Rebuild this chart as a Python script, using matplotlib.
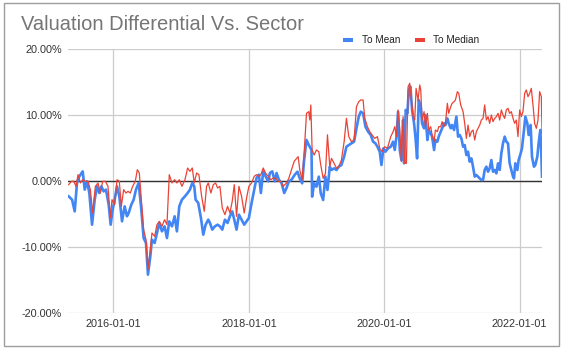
import matplotlib
matplotlib.use("Agg")
import matplotlib.pyplot as plt
from matplotlib.patches import Rectangle

plt.rcParams['font.family'] = ['Liberation Sans', 'DejaVu Sans']

# decimal years and % values
mean_years = [
    2015.338, 2015.388, 2015.427, 2015.461, 2015.496, 2015.545, 2015.575, 2015.609, 2015.643, 2015.683,
    2015.722, 2015.757, 2015.791, 2015.821, 2015.855, 2015.889, 2015.929, 2015.958, 2015.988, 2016.017,
    2016.052, 2016.086, 2016.126, 2016.165, 2016.199, 2016.224, 2016.263, 2016.298, 2016.332, 2016.372,
    2016.411, 2016.445, 2016.480, 2016.509, 2016.544, 2016.568, 2016.608, 2016.642, 2016.677, 2016.716,
    2016.755, 2016.790, 2016.824, 2016.864, 2016.903, 2016.937, 2016.972, 2017.011,
    2017.056, 2017.095, 2017.129, 2017.164, 2017.193, 2017.213, 2017.252, 2017.292, 2017.326, 2017.361,
    2017.400, 2017.425, 2017.459, 2017.498, 2017.538, 2017.572, 2017.607, 2017.646, 2017.685, 2017.720,
    2017.754, 2017.784, 2017.818, 2017.853, 2017.892, 2017.931, 2017.966, 2018.000, 2018.040, 2018.079,
    2018.113, 2018.148, 2018.177, 2018.212, 2018.246, 2018.286, 2018.310, 2018.345, 2018.384, 2018.409,
    2018.443, 2018.482, 2018.522, 2018.556, 2018.591, 2018.630, 2018.679,
    2018.718, 2018.752, 2018.787, 2018.816, 2018.851, 2018.885, 2018.925, 2018.934, 2018.964, 2018.998,
    2019.033, 2019.062, 2019.097, 2019.131, 2019.161, 2019.195, 2019.220, 2019.259, 2019.294, 2019.328,
    2019.367, 2019.407, 2019.441, 2019.476, 2019.515, 2019.554, 2019.589, 2019.623, 2019.653, 2019.687,
    2019.722, 2019.761, 2019.800, 2019.835, 2019.869, 2019.899, 2019.933, 2019.958, 2019.987, 2020.017,
    2020.056, 2020.096, 2020.130,
    2020.155, 2020.180, 2020.204, 2020.229, 2020.253, 2020.278, 2020.293, 2020.317, 2020.342, 2020.362,
    2020.386, 2020.411, 2020.440, 2020.460, 2020.485, 2020.509, 2020.539, 2020.558, 2020.588, 2020.608,
    2020.637, 2020.657, 2020.686, 2020.706, 2020.736, 2020.755, 2020.785, 2020.804, 2020.834, 2020.854,
    2020.883, 2020.903, 2020.932, 2020.952, 2020.982, 2021.001, 2021.031, 2021.065, 2021.090, 2021.114,
    2021.139, 2021.164, 2021.188, 2021.213, 2021.237, 2021.262, 2021.287, 2021.311, 2021.336, 2021.360,
    2021.385, 2021.410, 2021.434, 2021.459, 2021.483, 2021.508, 2021.533, 2021.557, 2021.582, 2021.606,
    2021.631, 2021.656, 2021.680, 2021.705, 2021.729, 2021.754, 2021.779, 2021.803, 2021.828, 2021.852,
    2021.877, 2021.902, 2021.916, 2021.936, 2021.966, 2021.985, 2022.015, 2022.034, 2022.064, 2022.084,
    2022.113, 2022.133, 2022.162, 2022.182, 2022.211, 2022.231, 2022.261, 2022.280, 2022.305, 2022.320,
    2022.330,
]
to_mean = [
    -2.32, -2.83, -4.60, -0.30, 0.71, 1.46, -1.31, -0.05, -1.82, -6.62,
    -2.83, -0.81, -1.82, -0.81, -1.57, -1.31, -3.59, -6.62, -4.34, -2.83,
    -0.81, -2.32, -6.11, -3.84, -5.35, -4.85, -3.59, -2.83, -1.31, -0.30,
    -4.34, -8.64, -9.39, -14.19, -11.41, -8.89, -9.39, -7.88, -6.36, -7.63,
    -6.87, -8.64, -6.11, -6.87, -5.35, -7.63, -3.84, -2.83,
    -2.32, -1.82, -1.31, -0.30, -0.81, -2.83, -3.33, -5.61, -8.13, -6.62,
    -5.86, -6.36, -7.37, -6.87, -6.62, -6.87, -7.37, -5.86, -6.36, -5.35,
    -4.60, -5.86, -7.37, -5.10, -5.86, -6.62, -6.11, -5.61, -3.33, -1.31,
    0.45, 0.96, -1.82, 1.46, 0.71, -0.05, 1.21, 1.46, -0.05, 1.21,
    0.20, -0.30, -1.82, -1.06, -0.05, 0.20, 0.96,
    1.41, 0.40, -0.35, 3.18, 6.21, 5.45, 4.70, -2.37, -0.35, -0.86,
    0.66, -1.87, -2.88, 0.66, -1.36, 2.17, 1.67, 1.92, 1.67, 2.17,
    2.42, 3.69, 5.20, 5.45, 5.71, 5.96, 7.98, 9.75, 10.51, 10.25,
    8.23, 7.47, 6.97, 5.96, 5.71, 5.20, 4.44, 2.42, 4.95, 4.44,
    4.95, 5.20, 5.96,
    4.70, 6.72, 10.51, 4.70, 3.18, 9.24, 2.68, 10.76, 10.25, 13.79,
    14.29, 10.76, 8.74, 6.72, 3.43, 12.27, 11.26, 8.74, 7.98, 10.00,
    6.21, 7.73, 7.22, 6.72, 4.70, 6.21, 5.96, 6.72, 7.47, 7.98,
    8.74, 8.48, 9.49, 8.74, 7.98, 8.48, 7.73, 9.75, 6.72, 6.97,
    6.46, 5.20, 5.45, 3.94, 4.44, 2.93, 3.43, 2.17, 0.66, 0.91,
    0.66, 0.40, 0.15, 0.15, 1.67, 2.17, 1.41, 1.92, 3.18, 1.41,
    1.67, 1.16, 2.68, 1.67, 4.19, 5.71, 6.72, 5.96, 5.71, 2.68,
    1.67, 0.66, 0.40, 2.68, 1.67, 3.18, 4.19, 4.95, 7.73, 9.75,
    8.74, 6.97, 8.48, 3.69, 2.17, 2.42, 3.69, 5.71, 7.73, 4.19,
    0.66,
]

median_years = [
    2015.338, 2015.378, 2015.412, 2015.447, 2015.476, 2015.511, 2015.545, 2015.584, 2015.624, 2015.658,
    2015.693, 2015.732, 2015.771, 2015.806, 2015.840, 2015.880, 2015.919, 2015.953, 2015.978, 2016.017,
    2016.052, 2016.086, 2016.116, 2016.150, 2016.185, 2016.214, 2016.249, 2016.283, 2016.322, 2016.352,
    2016.381, 2016.411, 2016.445, 2016.480, 2016.509, 2016.544, 2016.568, 2016.608, 2016.642, 2016.677,
    2016.716, 2016.755, 2016.790, 2016.824, 2016.864, 2016.903, 2016.937, 2016.972, 2017.011,
    2017.056, 2017.095, 2017.129, 2017.164, 2017.193, 2017.228, 2017.262, 2017.302, 2017.341, 2017.375,
    2017.400, 2017.439, 2017.474, 2017.508, 2017.538, 2017.572, 2017.607, 2017.646, 2017.685, 2017.720,
    2017.754, 2017.784, 2017.818, 2017.853, 2017.892, 2017.931, 2017.966, 2018.000, 2018.040, 2018.079,
    2018.113, 2018.148, 2018.177, 2018.212, 2018.246, 2018.286, 2018.325, 2018.359, 2018.394, 2018.433,
    2018.472, 2018.507, 2018.556, 2018.591, 2018.630, 2018.669,
    2018.728, 2018.752, 2018.787, 2018.816, 2018.851, 2018.885, 2018.900, 2018.915, 2018.934, 2018.964,
    2018.998, 2019.033, 2019.062, 2019.097, 2019.131, 2019.161, 2019.195, 2019.220, 2019.259, 2019.294,
    2019.328, 2019.367, 2019.407, 2019.441, 2019.476, 2019.515, 2019.554, 2019.589, 2019.623, 2019.653,
    2019.687, 2019.712, 2019.751, 2019.786, 2019.820, 2019.859, 2019.899, 2019.933, 2019.968, 2020.007,
    2020.046, 2020.096, 2020.130,
    2020.155, 2020.180, 2020.204, 2020.229, 2020.253, 2020.278, 2020.302, 2020.327, 2020.352, 2020.376,
    2020.401, 2020.426, 2020.450, 2020.470, 2020.499, 2020.524, 2020.539, 2020.558, 2020.588, 2020.608,
    2020.637, 2020.657, 2020.686, 2020.706, 2020.736, 2020.755, 2020.785, 2020.804, 2020.834, 2020.854,
    2020.883, 2020.903, 2020.932, 2020.952, 2020.982, 2021.001, 2021.031, 2021.051, 2021.080, 2021.100,
    2021.129, 2021.164, 2021.188, 2021.213, 2021.237, 2021.262, 2021.287, 2021.311, 2021.336, 2021.360,
    2021.385, 2021.410, 2021.434, 2021.459, 2021.483, 2021.508, 2021.533, 2021.557, 2021.582, 2021.606,
    2021.631, 2021.656, 2021.680, 2021.705, 2021.729, 2021.754, 2021.779, 2021.803, 2021.828, 2021.852,
    2021.877, 2021.902, 2021.926, 2021.951, 2021.975, 2022.000, 2022.025, 2022.049, 2022.074, 2022.098,
    2022.123, 2022.148, 2022.172, 2022.197, 2022.221, 2022.246, 2022.271, 2022.295, 2022.320, 2022.330,
]
to_median = [
    -0.56, -0.05, -0.05, -0.81, 0.96, -0.30, 0.20, -0.05, -0.05, -1.31,
    -4.85, -0.81, -0.30, -1.82, -0.05, -0.05, -0.81, -5.61, -2.83, -3.59,
    0.20, -0.05, -3.84, -1.31, -1.82, -1.57, -1.82, -0.81, -0.05, 1.72,
    1.21, -2.83, -7.37, -8.89, -13.43, -10.40, -7.88, -8.38, -6.62, -6.11,
    -6.87, -5.86, -6.62, 0.96, -0.30, 0.20, -0.30, 0.20, -0.81,
    0.20, 1.97, 1.46, 1.97, -0.30, 1.21, 0.96, -2.32, -4.60, -0.81,
    -0.30, -1.82, -0.56, -0.30, -1.06, -0.81, -4.09, -5.10, -3.84, -4.85,
    -3.08, -0.56, -5.35, -0.81, -2.32, -4.85, -2.58, -0.81, -0.30, 0.71,
    0.96, 0.71, 0.96, 1.97, 1.21, 0.71, 0.20, 0.45, 0.45, -0.05,
    -0.05, -0.81, -0.30, 0.45, 1.72, 2.98,
    3.69, 1.67, 0.15, 4.19, 10.25, 10.51, 9.24, 11.52, 4.70, 3.94,
    4.70, 4.44, 2.42, 0.40, 1.16, 7.00, 2.17, 3.43, 2.68, 1.92,
    2.17, 3.18, 5.96, 9.49, 6.72, 5.96, 6.21, 11.26, 12.02, 12.27,
    12.27, 9.49, 8.23, 7.47, 6.97, 6.46, 6.72, 4.95, 4.44, 5.20,
    4.95, 6.72, 7.47,
    8.23, 6.72, 10.76, 7.73, 2.93, 9.75, 2.68, 2.68, 14.29, 14.80,
    12.27, 9.75, 9.24, 14.04, 12.27, 14.55, 13.79, 9.24, 10.51, 8.23,
    10.25, 7.73, 8.23, 6.97, 5.96, 7.73, 7.47, 8.23, 8.23, 8.99,
    8.23, 8.74, 11.77, 10.25, 11.26, 11.77, 12.02, 12.27, 13.54, 13.28,
    11.52, 10.51, 8.74, 6.46, 8.48, 6.72, 7.47, 7.73, 6.21, 7.47,
    7.98, 8.48, 9.24, 9.49, 11.52, 9.24, 9.75, 8.74, 10.00, 8.99,
    9.49, 9.75, 10.25, 9.24, 10.76, 10.00, 9.49, 10.76, 11.01, 10.25,
    10.51, 9.49, 8.74, 9.24, 6.72, 10.76, 9.75, 10.51, 13.28, 13.79,
    12.78, 13.28, 14.04, 11.52, 8.74, 7.98, 9.24, 13.54, 12.78, 7.73,
]

y_ticks = [-20, -10, 0, 10, 20]
x_tick_years = [2016, 2018, 2020, 2022]

W, H = 564, 354
fig = plt.figure(figsize=(W / 100, H / 100), dpi=100)
ax = fig.add_axes([68 / W, 1 - 313 / H, (542 - 68) / W, (313 - 49) / H])

ax.plot(mean_years, to_mean, color='#4285F4', lw=1.9, solid_joinstyle='round', zorder=3)
ax.plot(median_years, to_median, color='#EA4335', lw=0.9, solid_joinstyle='round', zorder=4)
ax.axhline(0, color='#333333', lw=1.0, zorder=2)

ax.set_xlim(2015.328, 2022.33)
ax.set_ylim(-20, 20)
ax.set_yticks(y_ticks)
ax.set_yticklabels([f"{v:.2f}%" for v in y_ticks])
ax.set_xticks(x_tick_years)
ax.set_xticklabels([f"{y}-01-01" for y in x_tick_years])
ax.grid(True, color='#cccccc', lw=0.9, zorder=1)
ax.set_axisbelow(True)
for s in ax.spines.values():
    s.set_visible(False)
ax.tick_params(length=0, labelsize=7.8, labelcolor='#333333', pad=4.5)

# title
fig.text(21 / W, 1 - 30.5 / H, "Valuation Differential Vs. Sector", fontsize=14.5,
         color='#757575', va='baseline', ha='left')

# legend
fig.add_artist(Rectangle((343 / W, 1 - 42 / H), 10 / W, 4 / H, transform=fig.transFigure,
                         color='#4285F4', lw=0))
fig.text(362 / W, 1 - 40 / H, "To Mean", fontsize=7.2, color='#222222', va='center', ha='left')
fig.add_artist(Rectangle((415 / W, 1 - 42 / H), 10 / W, 4 / H, transform=fig.transFigure,
                         color='#EA4335', lw=0))
fig.text(433 / W, 1 - 40 / H, "To Median", fontsize=7.2, color='#222222', va='center', ha='left')

# outer frame
fig.add_artist(Rectangle((4 / W, 1 - 346 / H), 555 / W, 343 / H, transform=fig.transFigure,
                         fill=False, edgecolor='#9e9e9e', lw=1.0))

fig.savefig("out.png", dpi=100)
